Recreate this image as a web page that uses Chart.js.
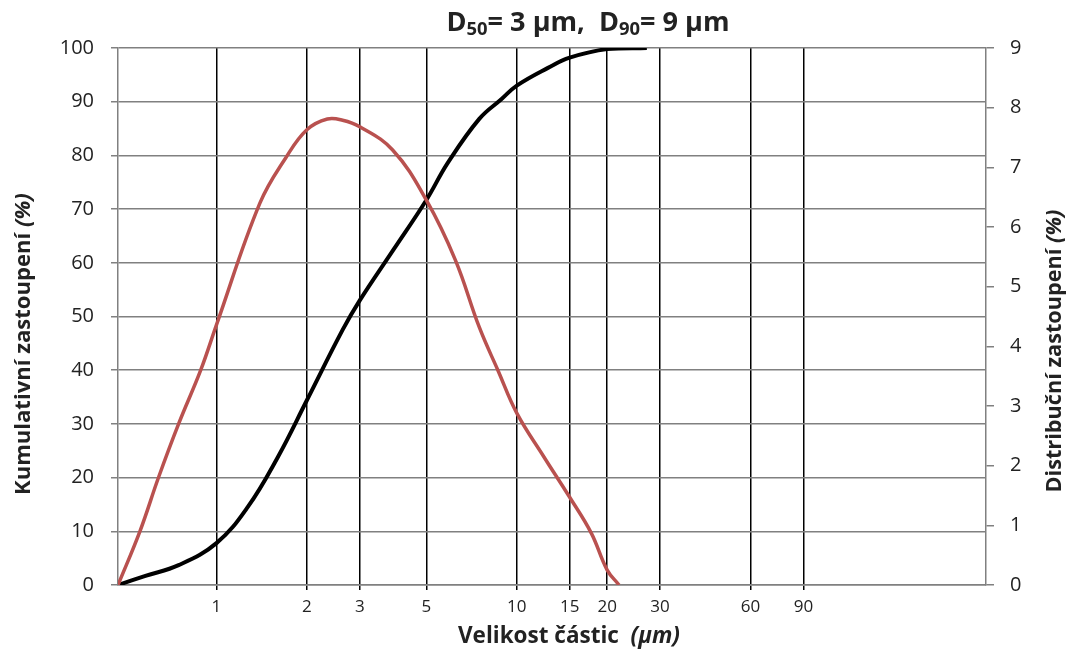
<!DOCTYPE html>
<html>
<head>
<meta charset="utf-8">
<script src="https://cdn.jsdelivr.net/npm/chart.js@4/dist/chart.umd.min.js"></script>
<style>
html,body{margin:0;padding:0;background:#fff;}
#wrap{width:1071px;height:653px;position:relative;}
</style>
</head>
<body>
<div id="wrap"><canvas id="chart"></canvas></div>
<script>
// particle size (um) and cumulative share (%) - left axis
const sizeCum = [0.47, 0.58, 0.748, 1, 1.27, 1.6, 2, 2.63, 3, 3.89, 5, 5.89, 7.5, 8.9, 10, 12.7, 15, 20, 27.1];
const cumulative = [0, 1.7, 3.7, 7.8, 14.5, 23.8, 34.4, 47.5, 53, 62.5, 71.7, 78.6, 86.8, 90.5, 93, 96.3, 98.2, 99.8, 100];
// particle size (um) and distribution share (%) - right axis
const sizeDist = [0.47, 0.556, 0.642, 0.748, 0.886, 1, 1.395, 1.706, 2, 2.34, 2.63, 3, 3.86, 5, 6.24, 7.5, 8.65, 10, 12.3, 15, 17.7, 20, 21.9];
const distribution = [0, 0.9, 1.81, 2.7, 3.6, 4.36, 6.4, 7.17, 7.63, 7.81, 7.79, 7.68, 7.29, 6.45, 5.45, 4.32, 3.6, 2.88, 2.15, 1.47, 0.87, 0.25, 0];
// tick labels
const xTicks = [1, 2, 3, 5, 10, 15, 20, 30, 60, 90];
const leftMax = 100, leftStep = 10;
const rightMax = 9, rightStep = 1;

const FONT = "'Open Sans', Lato, sans-serif";
const TXT = "#222";

// draws text pieces centred at (cx, cy), font size chosen so the whole line is w px wide
function drawRuns(c, runs, cx, cy, w) {
  const base = 20;
  let tw = 0;
  runs.forEach(r => { c.font = r.st + " " + base * (r.k || 1) + "px " + FONT; tw += c.measureText(r.t).width; });
  const size = base * w / tw;
  let x = cx - w / 2;
  c.textBaseline = "middle";
  c.textAlign = "left";
  runs.forEach(r => {
    c.font = r.st + " " + size * (r.k || 1) + "px " + FONT;
    c.fillText(r.t, x, cy + (r.dy || 0) * size);
    x += c.measureText(r.t).width;
  });
}

const textPlugin = {
  id: "texts",
  afterDraw(chart) {
    const c = chart.ctx;
    c.save();
    c.fillStyle = TXT;
    drawRuns(c, [
      {t: "D", st: "bold"}, {t: "50", st: "bold", k: 0.68, dy: 0.25}, {t: "= 3 µm,  D", st: "bold"},
      {t: "90", st: "bold", k: 0.68, dy: 0.25}, {t: "= 9 µm", st: "bold"}
    ], 588, 23, 283);

    drawRuns(c, [{t: "Velikost částic  ", st: "bold"}, {t: "(µm)", st: "italic bold"}], 569, 637, 222);

    c.save();
    c.translate(24, 344);
    c.rotate(-Math.PI / 2);
    drawRuns(c, [{t: "Kumulativní zastoupení ", st: "bold"}, {t: "(%)", st: "italic bold"}], 0, 0, 302);
    c.restore();

    c.save();
    c.translate(1055, 351);
    c.rotate(-Math.PI / 2);
    drawRuns(c, [{t: "Distribuční zastoupení ", st: "bold"}, {t: "(%)", st: "italic bold"}], 0, 0, 283);
    c.restore();
    c.restore();
  }
};

new Chart(document.getElementById("chart"), {
  type: "line",
  data: {
    datasets: [
      {
        label: "Distribuční zastoupení",
        data: sizeDist.map((s, i) => ({x: s, y: distribution[i]})),
        yAxisID: "y1",
        borderColor: "#b9514f",
        borderWidth: 3.5,
        pointRadius: 0,
        tension: 0.4
      },
      {
        label: "Kumulativní zastoupení",
        data: sizeCum.map((s, i) => ({x: s, y: cumulative[i]})),
        yAxisID: "y",
        borderColor: "#000",
        borderWidth: 4,
        pointRadius: 0,
        tension: 0.4
      }
    ]
  },
  options: {
    responsive: true,
    maintainAspectRatio: false,
    devicePixelRatio: 1,
    animation: false,
    layout: {padding: {top: 48, left: 0, right: 0, bottom: 0}},
    plugins: {legend: {display: false}, tooltip: {enabled: false}, title: {display: false}},
    scales: {
      x: {
        type: "logarithmic",
        min: 0.47,
        max: 365,
        afterBuildTicks: s => { s.ticks = xTicks.map(v => ({value: v})); },
        afterFit: s => { s.height = 68; },
        grid: {color: "#000", lineWidth: 1.5, tickLength: 5},
        border: {color: "#808080", width: 1.5},
        ticks: {
          autoSkip: false, maxRotation: 0, color: TXT, padding: 7,
          font: {family: FONT, size: 17},
          callback: v => String(v)
        }
      },
      y: {
        position: "left",
        min: 0, max: leftMax,
        afterFit: s => { s.width = 118; },
        grid: {color: "#808080", lineWidth: 1.5, tickLength: 7},
        border: {color: "#808080", width: 1.5},
        ticks: {stepSize: leftStep, color: TXT, padding: 17, font: {family: FONT, size: 20}}
      },
      y1: {
        position: "right",
        min: 0, max: rightMax,
        afterFit: s => { s.width = 85; },
        grid: {drawOnChartArea: false, color: "#808080", lineWidth: 1.5, tickLength: 8},
        border: {color: "#808080", width: 1.5},
        ticks: {stepSize: rightStep, color: TXT, padding: 16, font: {family: FONT, size: 20}}
      }
    }
  },
  plugins: [textPlugin]
});
</script>
</body>
</html>
